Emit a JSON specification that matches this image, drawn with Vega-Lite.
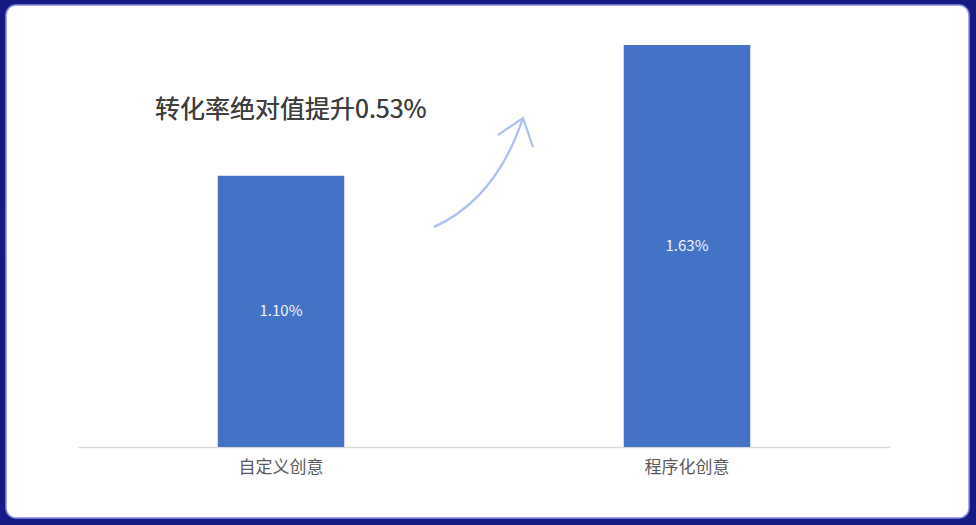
{
  "$schema": "https://vega.github.io/schema/vega-lite/v6.json",
  "width": 976,
  "height": 525,
  "autosize": {"type": "fit", "contains": "padding"},
  "padding": {"left": 6, "top": 5, "right": 7, "bottom": 7},
  "background": "#161b84",
  "data": {
    "values": [
      {"type": "自定义创意", "rate": 0.011},
      {"type": "程序化创意", "rate": 0.0163}
    ]
  },
  "encoding": {
    "x": {
      "field": "type",
      "type": "nominal",
      "sort": null,
      "scale": {"range": [72, 884], "paddingInner": 0.6884, "paddingOuter": 0.3442},
      "axis": {
        "title": null,
        "orient": "bottom",
        "offset": -71,
        "zindex": 0,
        "ticks": false,
        "labelAngle": 0,
        "labelPadding": 12,
        "labelFontSize": 17,
        "labelColor": "#595959",
        "labelFont": "Noto Sans CJK SC",
        "domainColor": "#d9d9d9",
        "domainWidth": 1.5
      }
    }
  },
  "layer": [
    {
      "mark": {"type": "bar", "color": "#4472c4"},
      "encoding": {
        "y": {
          "field": "rate",
          "type": "quantitative",
          "scale": {"domain": [-0.00288, 0.01792], "nice": false, "zero": false},
          "axis": null
        },
        "y2": {"datum": 0}
      }
    },
    {
      "mark": {"type": "text", "color": "#f2f5ff", "fontSize": 15, "font": "Noto Sans CJK SC", "baseline": "middle"},
      "encoding": {
        "y": {
          "field": "rate",
          "type": "quantitative",
          "scale": {"domain": [-0.00576, 0.03584], "nice": false, "zero": false},
          "axis": null
        },
        "text": {"field": "rate", "type": "quantitative", "format": ".2%"}
      }
    },
    {
      "mark": {"type": "text", "color": "#3d3d3d", "fontSize": 25, "font": "Noto Sans CJK SC", "align": "left", "baseline": "middle", "dx": -126},
      "encoding": {
        "x": {"datum": "自定义创意", "type": "nominal"},
        "y": {
          "datum": 0.01367,
          "type": "quantitative",
          "scale": {"domain": [-0.00288, 0.01792], "nice": false, "zero": false},
          "axis": null
        },
        "text": {"value": "转化率绝对值提升0.53%"}
      }
    },
    {
      "mark": {
        "type": "point",
        "filled": false,
        "color": "#aec3f0",
        "strokeWidth": 2,
        "opacity": 1,
        "size": 10000,
        "shape": "M3.06,1.12Q4.3,0.56,4.84,-1.06M4.34,-0.72L4.84,-1.06L5.04,-0.48"
      },
      "encoding": {
        "x": {"datum": "自定义创意", "type": "nominal"},
        "y": {
          "datum": 0.01119,
          "type": "quantitative",
          "scale": {"domain": [-0.00288, 0.01792], "nice": false, "zero": false},
          "axis": null
        }
      }
    }
  ],
  "resolve": {"scale": {"y": "independent"}},
  "config": {
    "font": "Noto Sans CJK SC",
    "view": {"fill": "white", "cornerRadius": 10, "stroke": "#8c8fe8", "strokeWidth": 1.5}
  }
}
